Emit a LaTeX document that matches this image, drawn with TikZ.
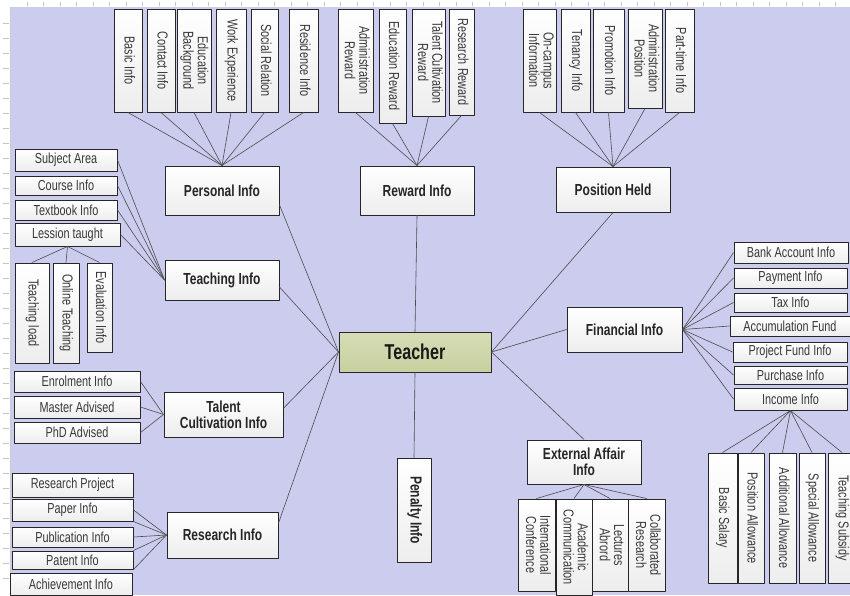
\documentclass[tikz,border=0pt]{standalone}
\usepackage{fontspec}
\setmainfont{Liberation Sans}[FakeStretch=0.75]
\definecolor{lav}{RGB}{204,204,238}
\definecolor{teachtop}{RGB}{214,221,182}
\definecolor{teachbot}{RGB}{199,208,160}
% vertical (rotated) leaf text
\newcommand{\vt}[1]{\rotatebox{-90}{\begin{tabular}{@{}c@{}}#1\end{tabular}}}
\tikzset{
	box/.style={draw=black!85, line width=1pt, top color=white, bottom color=gray!14, inner sep=1pt, align=center},
	mainbox/.style={box, font=\fontsize{16}{16}\selectfont\bfseries, text=black!85, minimum width=114, minimum height=45},
	leaf/.style={box, font=\fontsize{14.5}{13}\selectfont, text=black!78},
	wh/.style 2 args={minimum width=#1, minimum height=#2},
	link/.style={draw=black!70, line width=0.6pt},
}

\begin{document}
\begin{tikzpicture}[x=1pt, y=-1pt, line cap=round, line join=round]
\useasboundingbox (0,0) rectangle (850,595);
\clip (0,0) rectangle (850,595);
% sheet background
\fill[white] (0,0) rectangle (850,595);
\fill[lav] (10,7) rectangle (850,595);
\draw[gray!40] (10,7) -- (10,595);
\foreach \y in {23,38,...,590} \draw[gray!45] (3,\y) -- (9,\y);
\foreach \x in {27,43.5,...,850} \draw[gray!45] (\x,2) -- (\x,6);

%========================
% centre
%========================
\node[box, top color=teachtop, bottom color=teachbot, wh={152}{40}, font=\fontsize{21.5}{22}\selectfont\bfseries, text=black!90] (teacher) at (415,352) {Teacher};

% first level
\node[mainbox, minimum height=49] (personal) at (222,190.5) {Personal Info};
\node[mainbox, minimum height=49] (reward) at (417,190.5) {Reward Info};
\node[mainbox] (position) at (613,189.5) {Position Held};
\node[mainbox, minimum height=40] (teaching) at (222,280) {Teaching Info};
\node[mainbox, minimum width=115] (financial) at (624.5,329.5) {Financial Info};
\node[mainbox, minimum width=119] (talent) at (223.5,414.5) {Talent\\Cultivation Info};
\node[mainbox, wh={111}{46}] (research) at (222.5,535) {Research Info};
\node[mainbox, wh={34}{104}] (penalty) at (414,510) {\vt{Penalty Info}};
\node[mainbox, minimum height=44] (external) at (584,462) {External Affair\\Info};

%========================
% top: personal / reward / position
%========================
\node[leaf, wh={28}{103}] (basic) at (128,60.5) {\vt{Basic Info}};
\node[leaf, wh={28}{103}] (contact) at (161,60.5) {\vt{Contact Info}};
\node[leaf, wh={34}{103}] (edu) at (194,60.5) {\vt{Education\\Background}};
\node[leaf, wh={30}{103}] (work) at (231,60.5) {\vt{Work Experience}};
\node[leaf, wh={27}{103}] (social) at (264.5,60.5) {\vt{Social Relation}};
\node[leaf, wh={29}{103}] (residence) at (303.5,60.5) {\vt{Residence Info}};

\node[leaf, wh={35}{103}] (adminrew) at (355.5,60.5) {\vt{Administration\\Reward}};
\node[leaf, wh={27}{114}] (edurew) at (392.5,66) {\vt{Education Reward}};
\node[leaf, wh={33}{107}] (talentrew) at (428.5,62.5) {\vt{Talent Cultivation\\Reward}};
\node[leaf, wh={25}{106}] (resrew) at (461.5,62) {\vt{Research Reward}};

\node[leaf, wh={33}{103}] (oncampus) at (539.5,60.5) {\vt{On-campus\\Information}};
\node[leaf, wh={29}{103}] (tenancy) at (575.5,60.5) {\vt{Tenancy Info}};
\node[leaf, wh={31}{103}] (promotion) at (608.5,60.5) {\vt{Promotion Info}};
\node[leaf, wh={34}{99}] (adminpos) at (645,58.5) {\vt{Administration\\Position}};
\node[leaf, wh={29}{103}] (parttime) at (679.5,60.5) {\vt{Part-time Info}};

\foreach \n in {basic,contact,edu,work,social,residence}
	\draw[link] (\n.south) -- (personal.north);
\foreach \n in {adminrew,edurew,talentrew,resrew}
	\draw[link] (\n.south) -- (reward.north);
\foreach \n in {oncampus,tenancy,promotion,adminpos,parttime}
	\draw[link] (\n.south) -- (position.north);

%========================
% left: teaching / talent / research
%========================
\node[leaf, wh={102}{22}] (subject) at (66,160) {Subject Area};
\node[leaf, wh={102}{19}] (course) at (66,185.5) {Course Info};
\node[leaf, wh={102}{20}] (textbook) at (66,210) {Textbook Info};
\node[leaf, wh={105}{23}] (lession) at (67.5,234.5) {Lession taught};
\node[leaf, wh={34}{100}] (tload) at (32,313) {\vt{Teaching load}};
\node[leaf, wh={26}{100}] (online) at (66,313) {\vt{Online Teaching}};
\node[leaf, wh={25}{89}] (evaluation) at (99.5,307.5) {\vt{Evaluation Info}};

\foreach \n in {subject,course,textbook,lession}
	\draw[link] (\n.east) -- (teaching.west);
\foreach \n in {tload,online,evaluation}
	\draw[link] (\n.north) -- (lession.south);

\node[leaf, wh={126}{21}] (enrol) at (77,381.5) {Enrolment Info};
\node[leaf, wh={126}{22}] (master) at (77,407) {Master Advised};
\node[leaf, wh={126}{21}] (phd) at (77,432.5) {PhD Advised};

\foreach \n in {enrol,master,phd}
	\draw[link] (\n.east) -- (talent.west);

\node[leaf, wh={121}{24}] (resproj) at (72.5,485) {Research Project};
\node[leaf, wh={121}{22}] (paper) at (72.5,510) {Paper Info};
\node[leaf, wh={121}{20}] (publication) at (72.5,537) {Publication Info};
\node[leaf, wh={121}{18}] (patent) at (72.5,560) {Patent Info};
\node[leaf, wh={122}{22}] (achievement) at (71,584.5) {Achievement Info};

\foreach \a in {paper.east,paper.south east,publication.east,patent.north east,patent.south east}
	\draw[link] (\a) -- (research.west);

%========================
% right: financial / income / external
%========================
\node[leaf, wh={114}{21}] (bank) at (791,252.5) {Bank Account Info};
\node[leaf, wh={113}{20}] (payment) at (790.5,278) {Payment Info};
\node[leaf, wh={113}{19}] (tax) at (790.5,302.5) {Tax Info};
\node[leaf, wh={120}{20}] (accum) at (790,326) {Accumulation Fund};
\node[leaf, wh={114}{20}] (projfund) at (790,352) {Project Fund Info};
\node[leaf, wh={113}{18}] (purchase) at (790.5,375) {Purchase Info};
\node[leaf, wh={113}{22}] (income) at (790.5,399) {Income Info};

\foreach \n in {bank,payment,tax,accum,projfund,purchase,income}
	\draw[link] (financial.east) -- (\n.west);

\node[leaf, wh={29}{130}] (basicsal) at (722.5,518) {\vt{Basic Salary}};
\node[leaf, wh={26}{130}] (posallow) at (751,518) {\vt{Position Allowance}};
\node[leaf, wh={27}{130}] (addallow) at (782.5,518) {\vt{Additional Allowance}};
\node[leaf, wh={26}{130}] (specallow) at (812,518) {\vt{Special Allowance}};
\node[leaf, wh={28}{130}] (teachsub) at (842,518) {\vt{Teaching Subsidy}};

\foreach \n in {basicsal,posallow,addallow,specallow,teachsub}
	\draw[link] (income.south) -- (\n.north);

\node[leaf, wh={37}{92}] (intconf) at (536.5,545) {\vt{International\\Conference}};
\node[leaf, wh={36}{96}] (academic) at (574,547) {\vt{Academic\\Communication}};
\node[leaf, wh={36}{92}] (lectures) at (610,545) {\vt{Lectures\\Abrord}};
\node[leaf, wh={37}{92}] (collab) at (646.5,545) {\vt{Collaborated\\Research}};

\foreach \n in {intconf,academic,lectures,collab}
	\draw[link] (external.south) -- (\n.north);

%========================
% teacher links
%========================
\draw[link] (teacher.west) -- (personal.-14);
\draw[link] (teacher.west) -- (teaching.-7);
\draw[link] (teacher.west) -- (talent.6);
\draw[link] (teacher.west) -- (research.12);
\draw[link] (teacher.north) -- (reward.south);
\draw[link] (teacher.south) -- (penalty.north);
\draw[link] (teacher.east) -- (position.south);
\draw[link] (teacher.east) -- (financial.west);
\draw[link] (teacher.east) -- (external.north);
\end{tikzpicture}
\end{document}
